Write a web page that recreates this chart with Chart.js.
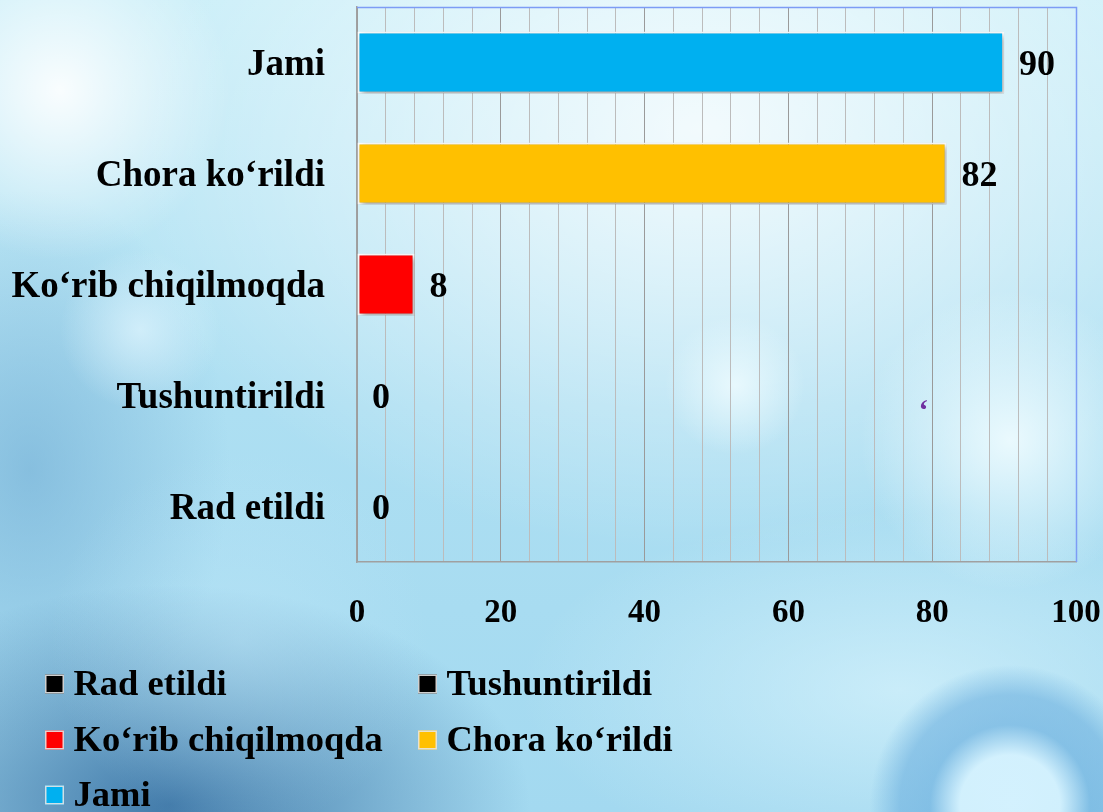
<!DOCTYPE html>
<html>
<head>
<meta charset="utf-8">
<script src="https://cdn.jsdelivr.net/npm/chart.js@4.4.0/dist/chart.umd.min.js"></script>
<style>
html,body{margin:0;padding:0;}
body{
  width:1103px;height:812px;overflow:hidden;
  background:
    radial-gradient(circle at 60px 90px, rgba(255,255,255,0.9) 0, rgba(255,255,255,0) 170px),
    radial-gradient(circle at 140px 330px, rgba(225,246,255,0.7) 0, rgba(225,246,255,0) 80px),
    radial-gradient(circle at 735px 385px, rgba(240,252,255,0.8) 0, rgba(240,252,255,0) 70px),
    radial-gradient(circle at 1010px 440px, rgba(240,252,255,0.9) 0, rgba(240,252,255,0) 150px),
    radial-gradient(circle at 1010px 805px, rgba(215,243,255,0.9) 0, rgba(215,243,255,0.85) 50px, rgba(100,170,220,0.6) 80px, rgba(100,170,220,0.55) 110px, rgba(100,170,220,0) 140px),
    radial-gradient(circle at 240px 640px, rgba(190,230,248,0.45) 0, rgba(190,230,248,0) 190px),
    radial-gradient(ellipse 360px 220px at 170px 805px, rgba(55,112,162,0.9) 0, rgba(55,112,162,0) 100%),
    radial-gradient(ellipse 200px 280px at 30px 470px, rgba(110,170,210,0.6) 0, rgba(110,170,210,0) 100%),
    radial-gradient(ellipse 600px 420px at 700px 130px, rgba(255,255,255,0.8) 0, rgba(255,255,255,0) 100%),
    radial-gradient(ellipse 380px 180px at 900px 690px, rgba(225,248,255,0.6) 0, rgba(225,248,255,0) 100%),
    linear-gradient(180deg, #c9eef8 0%, #addff2 50%, #a3d9f0 100%);
}
#wrap{position:relative;width:1103px;height:812px;}
</style>
</head>
<body>
<div id="wrap"><canvas id="c" width="1103" height="812"></canvas></div>
<script>
const categories = ['Rad etildi', 'Tushuntirildi', 'Ko‘rib chiqilmoqda', 'Chora ko‘rildi', 'Jami'];
const values = [0, 0, 8, 82, 90];
const barColors = ['#000000', '#000000', '#ff0000', '#ffc000', '#00b0f0'];
const xTickLabels = ['0', '20', '40', '60', '80', '100'];
const strayMark = '‘';

const SERIF = '"Liberation Serif", "Times New Roman", serif';

function zeroPad(s) { s.paddingTop = 0; s.paddingBottom = 0; s.paddingLeft = 0; s.paddingRight = 0; }

const decorPlugin = {
  id: 'decor',
  beforeDatasetsDraw(chart) {
    const ctx = chart.ctx;
    ctx.save();
    ctx.shadowColor = 'rgba(0,0,0,0.35)';
    ctx.shadowBlur = 6;
    ctx.shadowOffsetX = 2;
    ctx.shadowOffsetY = 3;
  },
  afterDatasetsDraw(chart) {
    const ctx = chart.ctx;
    ctx.restore();
    const a = chart.chartArea;
    ctx.save();
    ctx.strokeStyle = '#7d9cf5';
    ctx.lineWidth = 1.5;
    ctx.beginPath();
    ctx.moveTo(a.left, a.top + 0.5);
    ctx.lineTo(a.right + 0.5, a.top + 0.5);
    ctx.lineTo(a.right + 0.5, a.bottom);
    ctx.stroke();
    ctx.restore();
    const meta = chart.getDatasetMeta(0);
    ctx.save();
    ctx.font = 'bold 36px ' + SERIF;
    ctx.fillStyle = '#000';
    ctx.textBaseline = 'middle';
    ctx.textAlign = 'left';
    meta.data.forEach((bar, i) => {
      ctx.fillText(String(values[i]), bar.x + 15, bar.y + 3);
    });
    const xs = chart.scales.x, ys = chart.scales.y;
    ctx.font = 'bold 30px ' + SERIF;
    ctx.fillStyle = '#7030a0';
    ctx.textAlign = 'center';
    ctx.fillText(strayMark, xs.getPixelForValue(78.8), ys.getPixelForValue(1) + 17);
    ctx.restore();
  },
  afterDraw(chart) {
    const ctx = chart.ctx;
    ctx.save();
    ctx.font = 'bold 36.5px ' + SERIF;
    ctx.textBaseline = 'middle';
    ctx.textAlign = 'left';
    const colX = [45, 418];
    const rowY = [684, 740, 795];
    categories.forEach((name, i) => {
      const cx = colX[i % 2], cy = rowY[Math.floor(i / 2)];
      ctx.fillStyle = barColors[i];
      ctx.fillRect(cx, cy - 9.5, 19, 19);
      ctx.strokeStyle = 'rgba(230,230,230,0.9)';
      ctx.lineWidth = 1.5;
      ctx.strokeRect(cx + 0.75, cy - 8.75, 17.5, 17.5);
      ctx.fillStyle = '#000';
      ctx.fillText(name, cx + 28.5, cy + 2);
    });
    ctx.restore();
  }
};

new Chart(document.getElementById('c'), {
  type: 'bar',
  data: {
    labels: categories,
    datasets: [{
      data: values,
      backgroundColor: barColors,
      borderColor: '#ffffff',
      borderWidth: 2,
      borderSkipped: false,
      barPercentage: 0.56,
      categoryPercentage: 1
    }]
  },
  options: {
    indexAxis: 'y',
    responsive: false,
    animation: false,
    layout: { padding: { top: 7, right: 27, left: 0, bottom: 0 } },
    plugins: { legend: { display: false }, tooltip: { enabled: false } },
    scales: {
      x: {
        min: 0, max: 100,
        afterFit(s) { s.height = 250; zeroPad(s); },
        ticks: {
          stepSize: 4, autoSkip: false, maxRotation: 0, padding: 32,
          color: '#000',
          font: { family: SERIF, size: 33, weight: 'bold' },
          callback: (v) => xTickLabels.includes(String(v)) ? String(v) : ''
        },
        grid: {
          drawTicks: false,
          color: (c) => (c.tick && c.tick.value % 20 === 0) ? '#9a9a9a' : '#bcbcbc',
          lineWidth: 1
        },
        border: { color: '#a0a0a0', width: 1.5 }
      },
      y: {
        reverse: true,
        afterFit(s) { s.width = 357; zeroPad(s); },
        ticks: {
          padding: 32, color: '#000', labelOffset: 3,
          font: { family: SERIF, size: 37, weight: 'bold' }
        },
        grid: { display: false, drawTicks: false },
        border: { color: '#a0a0a0', width: 1.5 }
      }
    }
  },
  plugins: [decorPlugin]
});
</script>
</body>
</html>
